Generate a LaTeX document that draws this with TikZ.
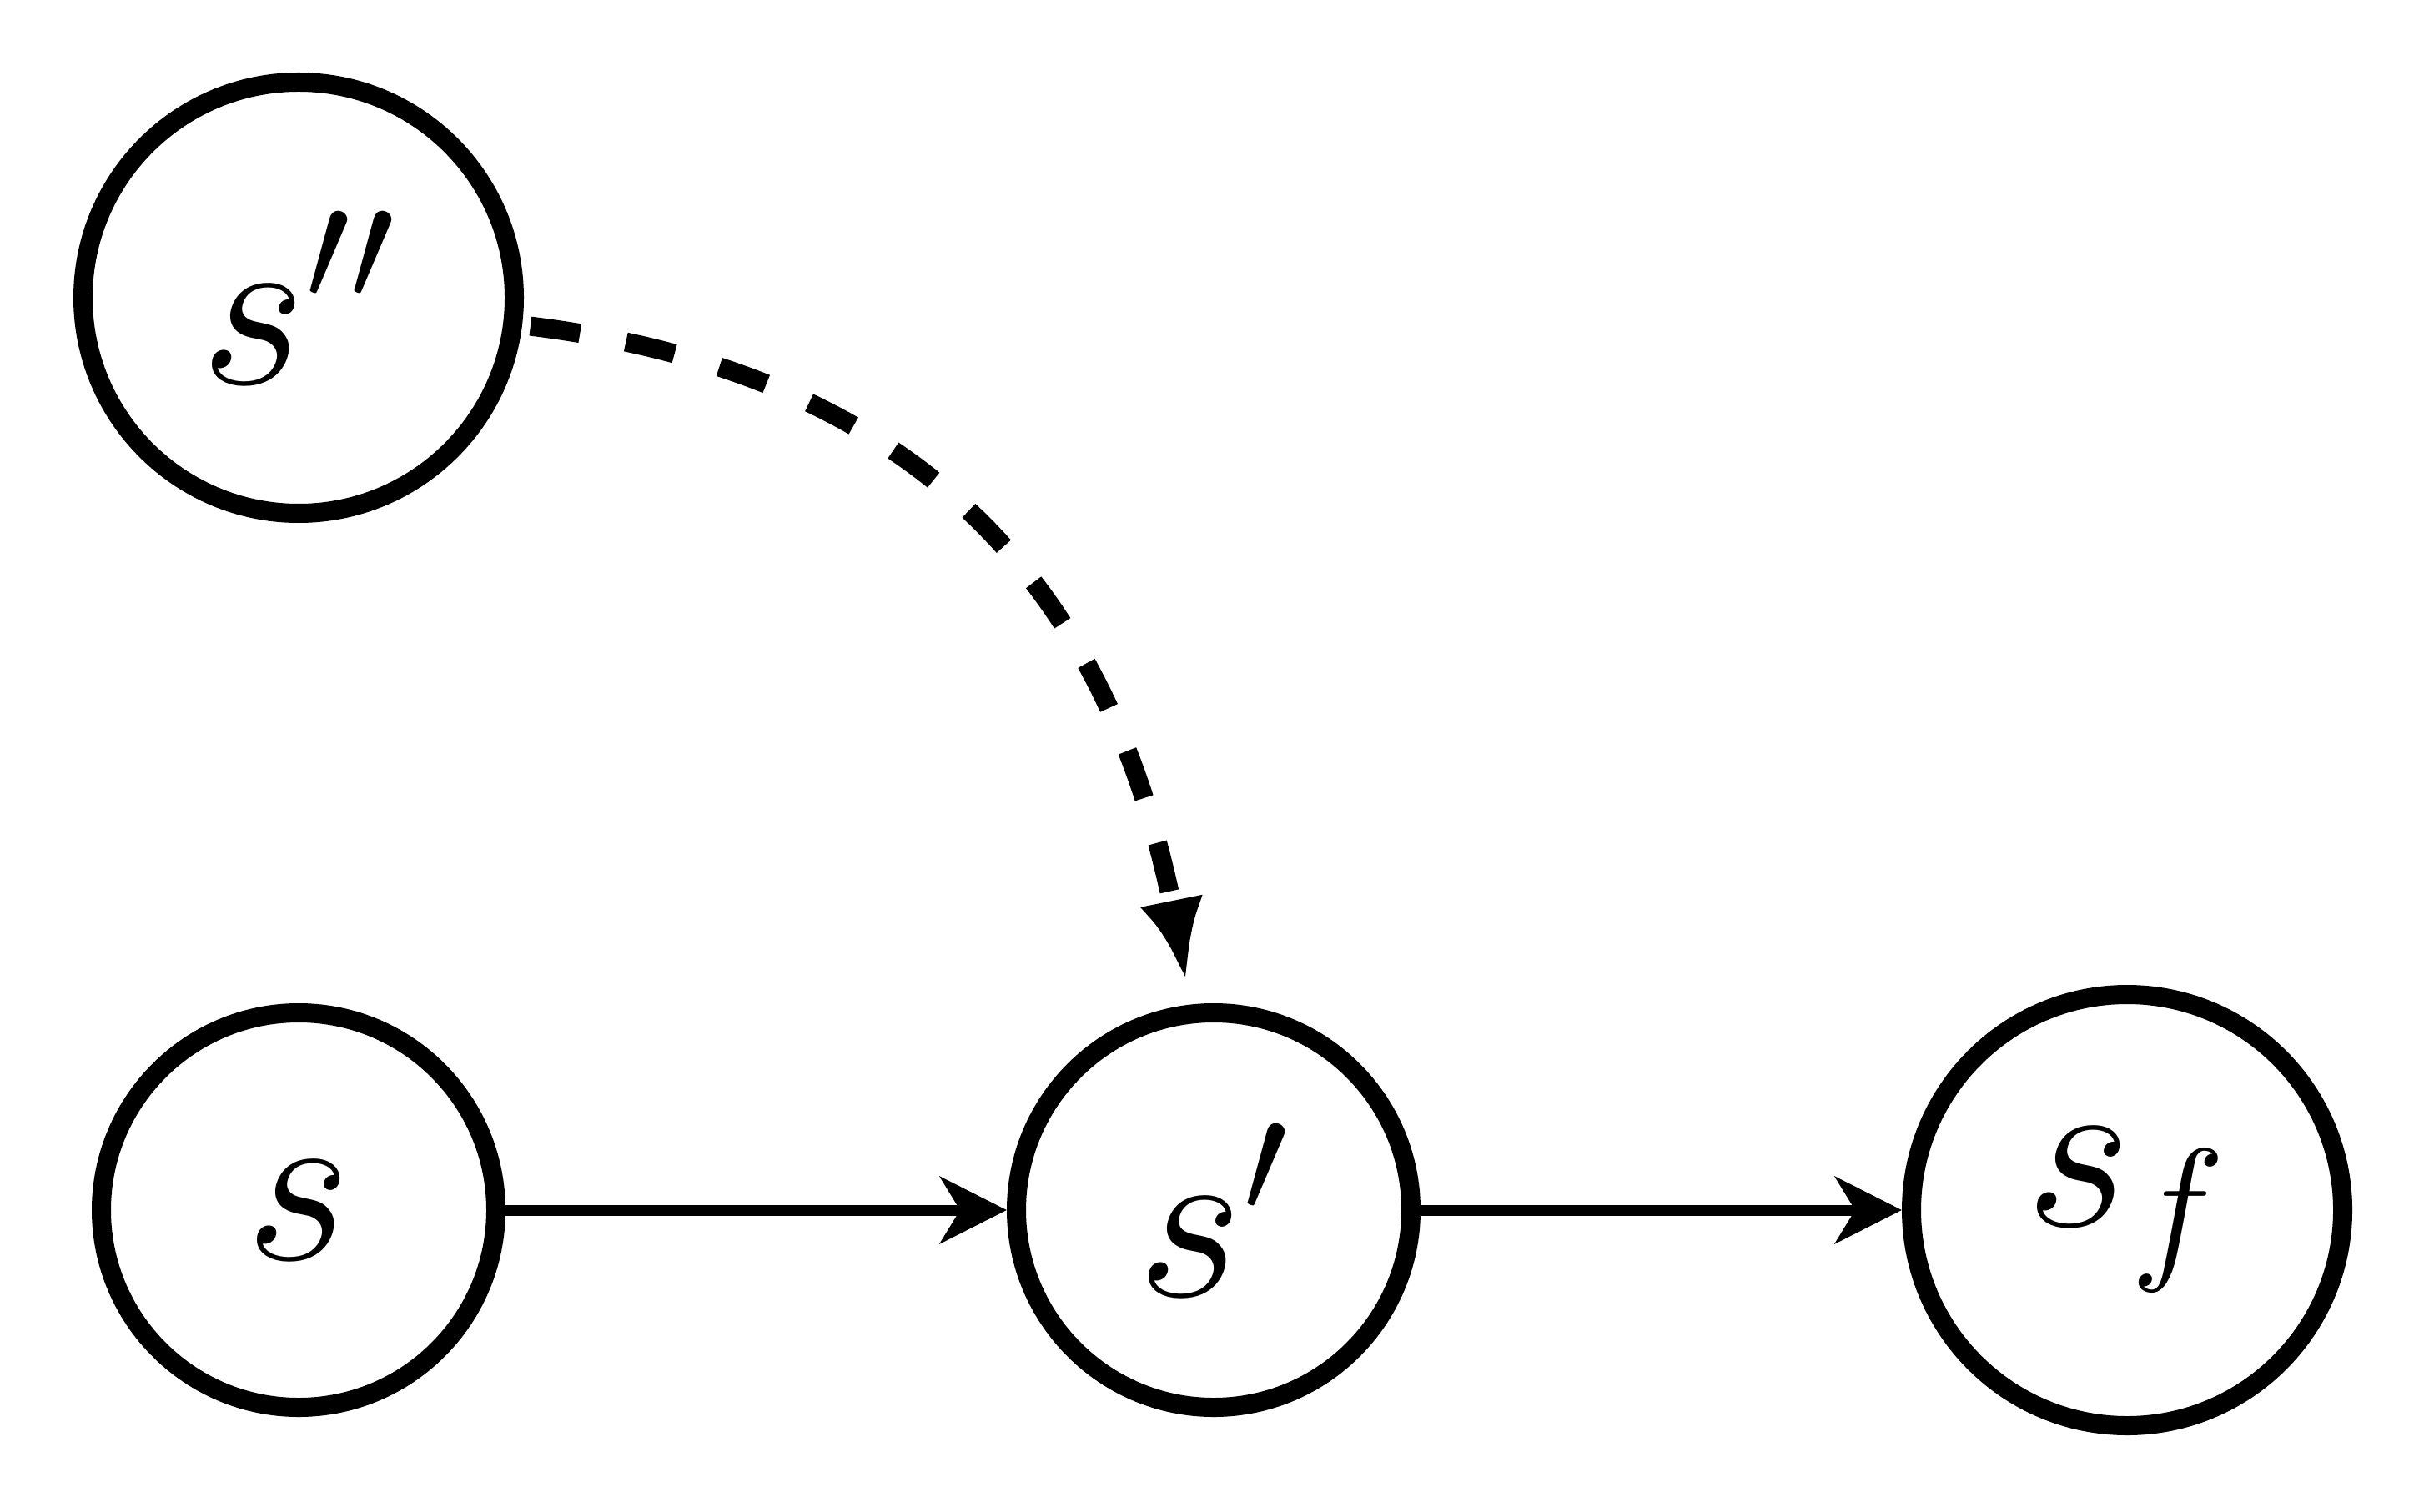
\RequirePackage{fix-cm}
\documentclass[tikz,border=0pt]{standalone}
\usepackage{amsmath}
\usetikzlibrary{arrows.meta,bending}

\begin{document}
\begin{tikzpicture}[
  stnode/.style={circle, draw, line width=0.115cm, inner sep=0pt, font=\fontsize{39}{47}\selectfont},
  stsmall/.style={stnode, minimum size=2.365cm},
  stbig/.style={stnode, minimum size=2.585cm}]
  \useasboundingbox (0,0) rectangle (14.53,9.06);

  % Estados
  \node[stbig] (s2) at (1.79, 7.275) {$s''$};
  \node[stsmall] (s0) at (1.79, 1.805) {$s$};
  \node[stsmall] (s1) at (7.275, 1.805) {$s'$};
  \node[stbig] (sf) at (12.75, 1.805) {$s_f$};

  % Transicoes
  \draw[line width=0.065cm, -{Stealth[length=0.4cm, width=0.4cm, inset=0.12cm]}] (s0) -- (s1);
  \draw[line width=0.065cm, -{Stealth[length=0.4cm, width=0.4cm, inset=0.12cm]}] (s1) -- (sf);

  % Transicao tracejada
  \draw[line width=0.115cm, dash pattern=on 0.3cm off 0.28cm, shorten <=0.05cm, shorten >=0.14cm,
        -{Latex[bend, length=0.5cm, width=0.38cm]}] (s2) to[out=-7, in=97, looseness=1.1] (s1);
\end{tikzpicture}
\end{document}
